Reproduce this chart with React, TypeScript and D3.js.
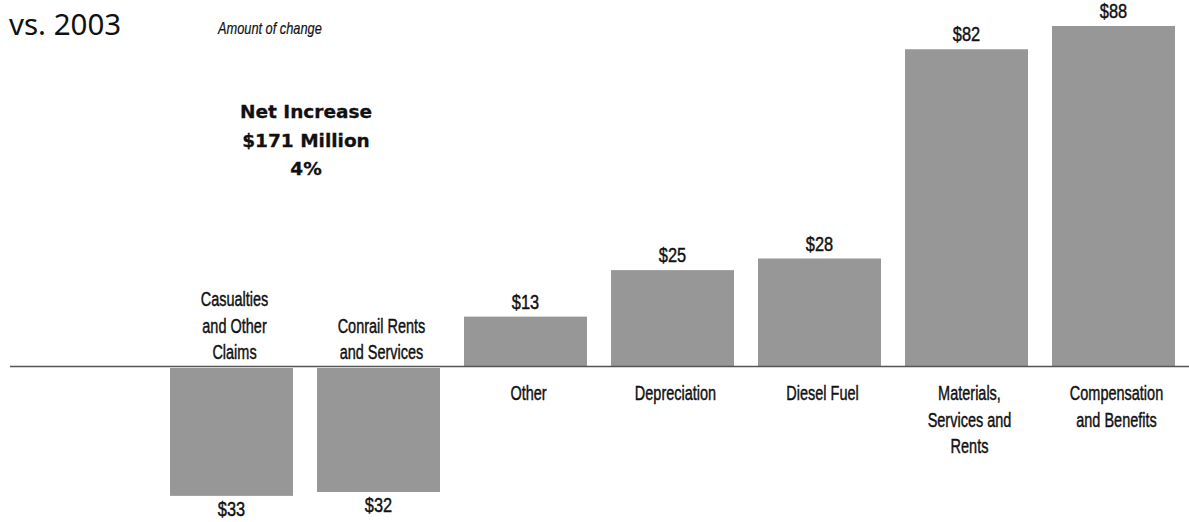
import React from "react";
import * as d3 from "d3";

const categories: string[][] = [
  ["Casualties", "and Other", "Claims"],
  ["Conrail Rents", "and Services"],
  ["Other"],
  ["Depreciation"],
  ["Diesel Fuel"],
  ["Materials,", "Services and", "Rents"],
  ["Compensation", "and Benefits"],
];
const keys = ["cas", "conrail", "other", "dep", "diesel", "mat", "comp"];
const values = [-33, -32, 13, 25, 28, 82, 88];
const valueLabels = ["$33", "$32", "$13", "$25", "$28", "$82", "$88"];
const titleText = "vs. 2003";
const subtitleText = "Amount of change";
const noteLines = ["Net Increase", "$171 Million", "4%"];

const W = 1189;
const H = 522;
const sans = "'Liberation Sans', Arial, sans-serif";

function Narrow({ x, y, sx, children, size, italic, anchor, sw }: any) {
  return (
    <g transform={`translate(${x},${y}) scale(${sx},1)`}>
      <text x={0} y={0} textAnchor={anchor || "middle"} fontFamily={sans} fontSize={size} fontStyle={italic ? "italic" : "normal"} fill="#111" stroke="#111" strokeWidth={sw ?? 0.45}>
        {children}
      </text>
    </g>
  );
}

export default function App() {
  const x = d3.scaleBand<string>().domain(keys).range([170, 1175]).paddingInner(24 / 147).paddingOuter(0);
  const y = d3.scaleLinear().domain([0, 88]).range([367, 367 - 88 * 3.875]);
  const y0 = y(0);
  const lh = 26.5;

  return (
    <svg width={W} height={H} style={{ position: "absolute", left: 0, top: 0, background: "#fff" }}>
      <text x={9} y={35} fontFamily="'Noto Sans', 'DejaVu Sans', sans-serif" fontSize={29.5} fill="#111">{titleText}</text>
      <Narrow x={218} y={34} sx={0.8} size={16} italic anchor="start" sw={0.2}>{subtitleText}</Narrow>
      {noteLines.map((t, i) => (
        <text key={t} x={306} y={118 + i * 28.5} textAnchor="middle" fontFamily="'DejaVu Sans', sans-serif" fontWeight="bold" fontSize={18.5} fill="#111" stroke="#111" strokeWidth={0.3}>{t}</text>
      ))}
      {values.map((v, i) => {
        const k = keys[i];
        const bx = x(k)!;
        const bw = x.bandwidth();
        const top = v >= 0 ? y(v) : y0 + 1;
        const h = v >= 0 ? y0 - y(v) : y(v) - y0;
        return <rect key={k} x={bx} y={top} width={bw} height={Math.max(0, h)} fill="#979797" />;
      })}
      <line x1={10} x2={W} y1={y0 - 0.5} y2={y0 - 0.5} stroke="#555" strokeWidth={1.6} />
      {values.map((v, i) => {
        const k = keys[i];
        const cx = x(k)! + x.bandwidth() / 2;
        const ly = v >= 0 ? y(v) - 8 : y(v) + 21;
        return (
          <Narrow key={k + "v"} x={cx} y={ly} sx={0.78} size={21}>{valueLabels[i]}</Narrow>
        );
      })}
      {categories.map((lines, i) => {
        const k = keys[i];
        const cx = x(k)! + x.bandwidth() / 2 + 3;
        const v = values[i];
        return lines.map((ln, j) => {
          const yy = v >= 0 ? y0 + 33 + j * lh : y0 - 8 - (lines.length - 1 - j) * lh;
          return <Narrow key={k + "c" + j} x={cx} y={yy} sx={0.69} size={21}>{ln}</Narrow>;
        });
      })}
    </svg>
  );
}
